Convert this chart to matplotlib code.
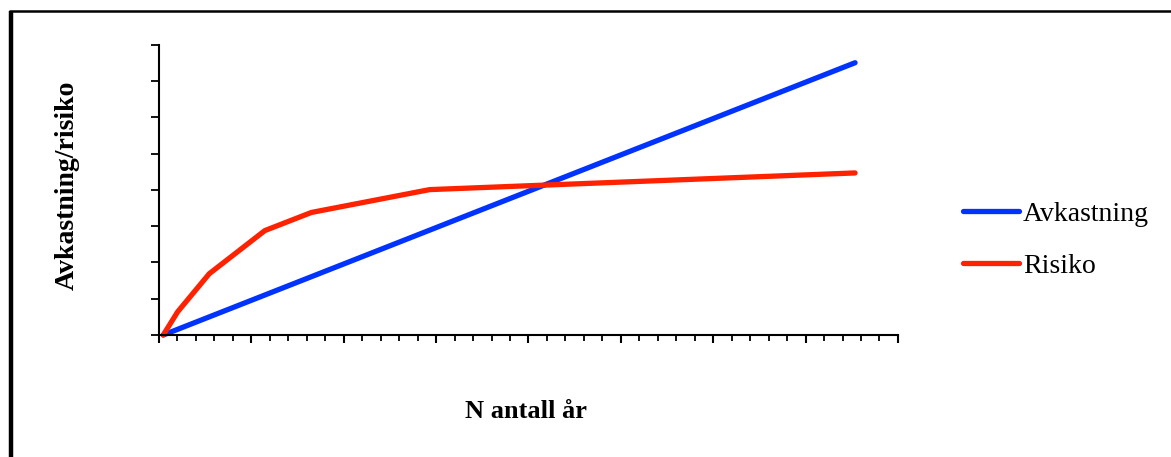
import matplotlib
matplotlib.use('Agg')
import matplotlib.pyplot as plt
from matplotlib.lines import Line2D
from matplotlib.ticker import MultipleLocator, NullFormatter

# values (x in tick units, y in gridline units)
avk_x = [0.23, 37.68]
avk_y = [0.0, 7.51]

risiko_x = [0.23, 1.01, 2.72, 5.73, 8.25, 14.65, 37.68]
risiko_y = [0.0, 0.64, 1.69, 2.88, 3.38, 4.01, 4.47]

labels = ['Avkastning', 'Risiko']
colors = ['#0033FF', '#FF2200']

plt.rcParams['font.family'] = ['Liberation Serif', 'DejaVu Serif']

fig = plt.figure(figsize=(11.71, 4.57), dpi=100)
ax = fig.add_axes([0.1358, 0.267, 0.631, 0.6346])

ax.plot(avk_x, avk_y, color=colors[0], lw=3.8, solid_capstyle='round',
        solid_joinstyle='round', clip_on=False, label=labels[0])
ax.plot(risiko_x, risiko_y, color=colors[1], lw=3.8, solid_capstyle='round',
        solid_joinstyle='round', clip_on=False, label=labels[1])

ax.set_xlim(0, 40)
ax.set_ylim(0, 8)

# axis look: only left and bottom spines, ticks outside, no labels
for s in ['top', 'right']:
    ax.spines[s].set_visible(False)
for s in ['left', 'bottom']:
    ax.spines[s].set_linewidth(1.5)

ax.xaxis.set_major_locator(MultipleLocator(5))
ax.xaxis.set_minor_locator(MultipleLocator(1))
ax.yaxis.set_major_locator(MultipleLocator(1))
ax.xaxis.set_major_formatter(NullFormatter())
ax.yaxis.set_major_formatter(NullFormatter())
ax.tick_params(axis='x', which='major', direction='out', length=6, width=1.5)
ax.tick_params(axis='x', which='minor', direction='out', length=4, width=1.3)
ax.tick_params(axis='y', which='major', direction='out', length=6, width=1.3)

fig.text(0.0575, 0.595, 'Avkastning/risiko', rotation=90, fontsize=20,
         fontweight='bold', ha='center', va='center')
fig.text(0.449, 0.100, 'N antall år', fontsize=19, fontweight='bold',
         ha='center', va='center')

ax.legend(loc='center left', bbox_to_anchor=(0.8224, 0.474),
          bbox_transform=fig.transFigure, frameon=False, fontsize=20,
          handlelength=2.0, handletextpad=0.15, labelspacing=0.95,
          borderpad=0, borderaxespad=0)

# outer frame (left and top edges visible)
fig.add_artist(Line2D([0.0094, 0.0094], [0, 0.975], color='black', lw=3.2,
                      transform=fig.transFigure, solid_capstyle='butt'))
fig.add_artist(Line2D([0.0077, 1.0], [0.975, 0.975], color='black', lw=1.8,
                      transform=fig.transFigure, solid_capstyle='butt'))

fig.savefig('out.png', dpi=100)
